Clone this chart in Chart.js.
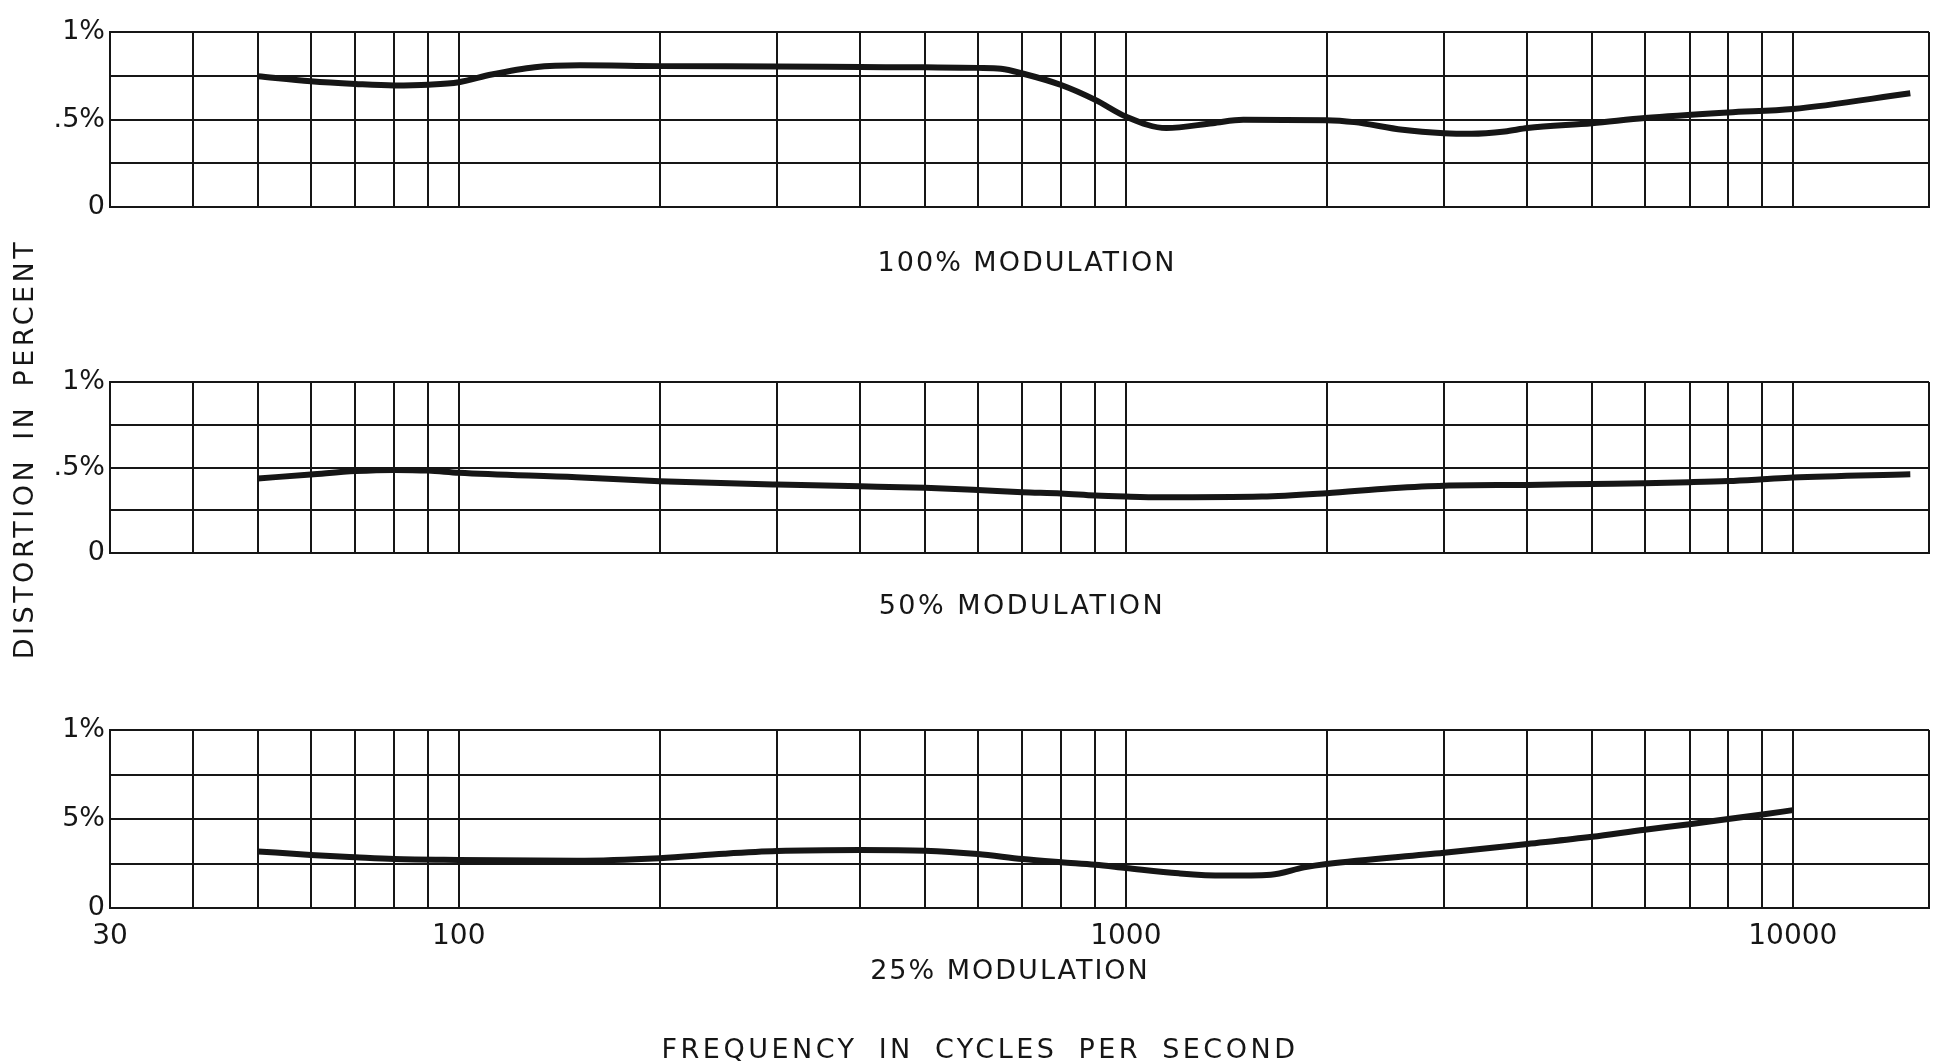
<!DOCTYPE html>
<html>
<head>
<meta charset="utf-8">
<script src="https://cdn.jsdelivr.net/npm/chart.js@4.4.1/dist/chart.umd.min.js"></script>
<style>
  html, body { margin: 0; padding: 0; background: #fff; }
  #wrap { position: relative; width: 1936px; height: 1064px; }
  #wrap canvas { position: absolute; left: 0; top: 0; }
</style>
</head>
<body>
<div id="wrap">
  <canvas id="c100" width="1936" height="1064"></canvas>
  <canvas id="c50" width="1936" height="1064"></canvas>
  <canvas id="c25" width="1936" height="1064"></canvas>
</div>
<script>
// frequencies (Hz) where the vertical grid lines sit
let gridFreqs = [30, 40, 50, 60, 70, 80, 90, 100, 200, 300, 400, 500, 600, 700, 800, 900,
  1000, 2000, 3000, 4000, 5000, 6000, 7000, 8000, 9000, 10000, 16000];
let xLabelFreqs = [30, 100, 1000, 10000];

// distortion axis (1.0 = 1%)
let yTicks = [0, 0.25, 0.5, 0.75, 1];
let yLabelsTop = ['0', '', '.5%', '', '1%'];
let yLabelsBottom = ['0', '', '5%', '', '1%'];   // the original drawing drops the dot here

// 100% modulation
let freq100 = [50, 60, 70, 80, 90, 100, 112, 130, 152, 200, 300, 400, 500, 600, 650,
  700, 800, 900, 1000, 1150, 1350, 1500, 2000, 2200, 2600, 3000, 3300, 3700, 4000,
  5000, 6000, 8000, 10000, 15000];
let dist100 = [0.747, 0.718, 0.703, 0.695, 0.699, 0.713, 0.757, 0.799, 0.81, 0.805, 0.803,
  0.80, 0.798, 0.795, 0.79, 0.763, 0.697, 0.612, 0.517, 0.451, 0.479, 0.498, 0.496, 0.485,
  0.441, 0.422, 0.419, 0.432, 0.451, 0.479, 0.508, 0.54, 0.56, 0.65];

// 50% modulation
let freq50 = [50, 60, 70, 80, 90, 100, 150, 200, 300, 400, 500, 600, 700, 800, 900, 1000,
  1130, 1600, 2000, 2500, 3000, 4000, 5000, 6000, 7000, 8000, 9000, 10000, 15000];
let dist50 = [0.436, 0.459, 0.479, 0.486, 0.482, 0.469, 0.443, 0.42, 0.40, 0.39, 0.381,
  0.368, 0.355, 0.348, 0.336, 0.33, 0.326, 0.33, 0.35, 0.379, 0.394, 0.398, 0.404, 0.408,
  0.414, 0.421, 0.431, 0.441, 0.46];

// 25% modulation
let freq25 = [50, 60, 70, 80, 100, 150, 200, 250, 300, 400, 500, 600, 700, 800, 900, 1000,
  1200, 1400, 1650, 1850, 2000, 3000, 4000, 5000, 6000, 7000, 8000, 9000, 10000];
let dist25 = [0.318, 0.298, 0.285, 0.275, 0.27, 0.266, 0.28, 0.305, 0.32, 0.326, 0.322,
  0.303, 0.275, 0.257, 0.243, 0.225, 0.195, 0.182, 0.187, 0.228, 0.247, 0.31, 0.36, 0.40,
  0.44, 0.47, 0.50, 0.525, 0.55];

let ink = '#161616';
let letterFont = 'DejaVu Sans';

// draws the hand-lettered captions (letter spaced, optionally rotated)
let captionPlugin = {
  id: 'captions',
  afterDraw(chart, args, opts) {
    let ctx = chart.ctx;
    for (let c of (opts.items || [])) {
      ctx.save();
      ctx.font = c.size + 'px "' + letterFont + '"';
      ctx.fillStyle = ink;
      ctx.letterSpacing = c.spacing + 'px';
      ctx.wordSpacing = (c.words || 0) + 'px';
      ctx.textAlign = 'center';
      ctx.textBaseline = 'middle';
      ctx.translate(c.x, c.y);
      if (c.rotate) ctx.rotate(c.rotate);
      ctx.fillText(c.text, 0, 0);
      ctx.restore();
    }
  }
};

function makePanel(id, freqs, dists, yLabels, top, bottom, showX, captions) {
  let points = [];
  for (let i = 0; i < freqs.length; i++) {
    points.push({ x: freqs[i], y: dists[i] });
  }

  return new Chart(document.getElementById(id), {
    type: 'line',
    data: {
      datasets: [{
        data: points,
        borderColor: ink,
        borderWidth: 6,
        pointRadius: 0,
        fill: false,
        cubicInterpolationMode: 'monotone'
      }]
    },
    options: {
      responsive: false,
      animation: false,
      devicePixelRatio: 1,
      layout: { padding: { top: top, right: 7, bottom: 0, left: 0 } },
      plugins: {
        legend: { display: false },
        tooltip: { enabled: false },
        captions: { items: captions }
      },
      scales: {
        x: {
          type: 'logarithmic',
          min: 30,
          max: 16000,
          afterBuildTicks: s => { s.ticks = gridFreqs.map(v => ({ value: v })); },
          afterFit: s => {
            s.height = 1064 - bottom;
            s.paddingLeft = 0;
            s.paddingRight = 0;
          },
          grid: { color: ink, lineWidth: 2, drawTicks: false },
          border: { color: ink, width: 2 },
          ticks: {
            display: showX,
            autoSkip: false,
            maxRotation: 0,
            padding: 12,
            color: ink,
            font: { family: letterFont, size: 28 },
            callback: v => xLabelFreqs.includes(v) ? String(v) : ''
          }
        },
        y: {
          min: 0,
          max: 1,
          afterBuildTicks: s => { s.ticks = yTicks.map(v => ({ value: v })); },
          afterFit: s => {
            s.width = 110;
            s.paddingTop = 0;
            s.paddingBottom = 0;
          },
          grid: { color: ink, lineWidth: 2, drawTicks: false },
          border: { color: ink, width: 2 },
          ticks: {
            padding: 5,
            color: ink,
            font: { family: letterFont, size: 27 },
            callback: v => yLabels[yTicks.indexOf(v)]
          }
        }
      }
    },
    plugins: [captionPlugin]
  });
}

makePanel('c100', freq100, dist100, yLabelsTop, 32, 207, false, [
  { text: '100% MODULATION', x: 1027, y: 264, size: 27, spacing: 2 }
]);

makePanel('c50', freq50, dist50, yLabelsTop, 382, 553, false, [
  { text: '50% MODULATION', x: 1022, y: 607, size: 27, spacing: 2.5 },
  { text: 'DISTORTION IN PERCENT', x: 26, y: 449, size: 27, spacing: 3.5, words: 6, rotate: -Math.PI / 2 }
]);

makePanel('c25', freq25, dist25, yLabelsBottom, 730, 908, true, [
  { text: '25% MODULATION', x: 1010, y: 972, size: 27, spacing: 2 },
  { text: 'FREQUENCY IN CYCLES PER SECOND', x: 980, y: 1051, size: 27, spacing: 3.5, words: 9 }
]);
</script>
</body>
</html>
